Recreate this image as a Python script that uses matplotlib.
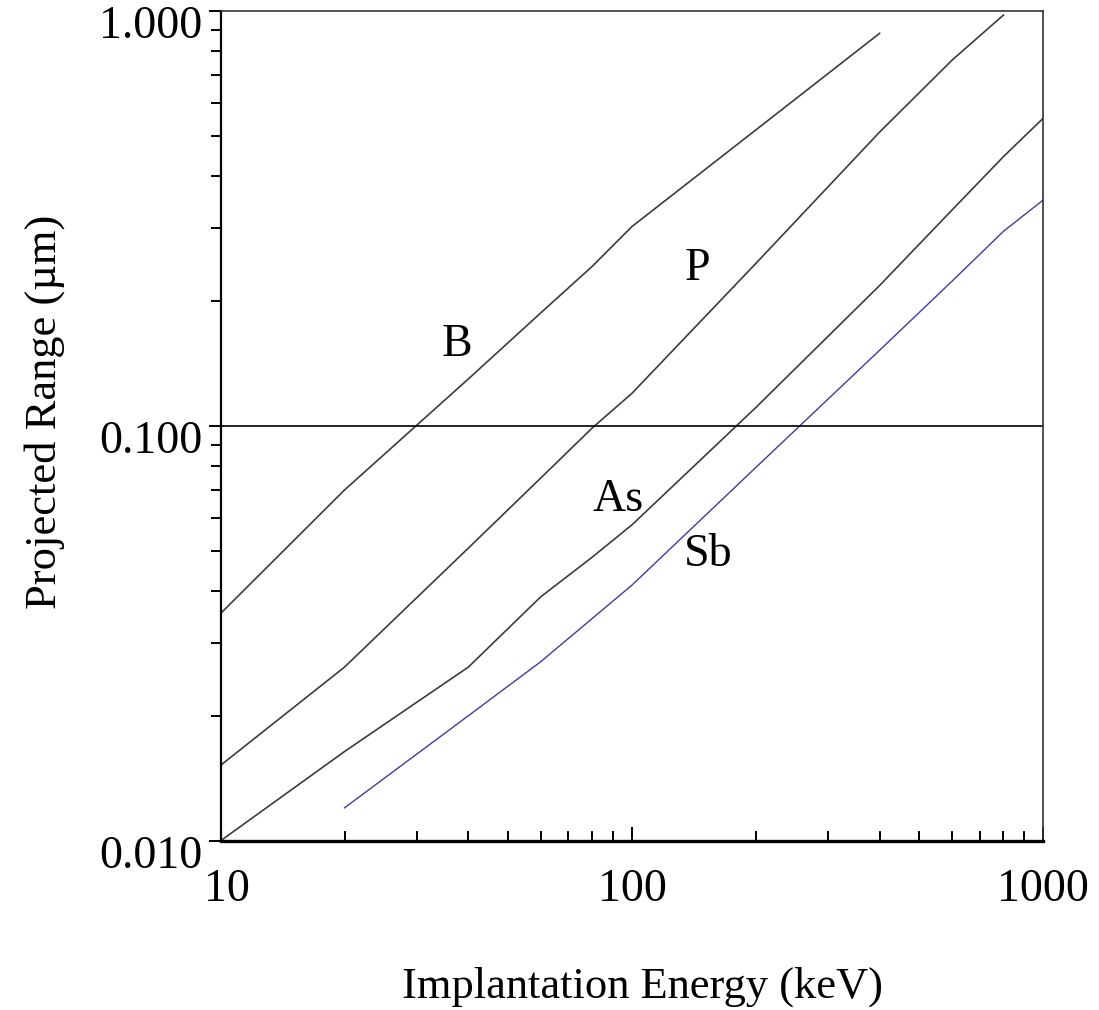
import matplotlib
matplotlib.use("Agg")
import matplotlib.pyplot as plt
import matplotlib.transforms as mtrans
from matplotlib.ticker import LogLocator, FixedLocator, NullFormatter

# Data (energy in keV, projected range in µm)
energy_B = [10, 20, 40, 60, 80, 100, 200, 400]
range_B = [0.0353, 0.0700, 0.1296, 0.187, 0.242, 0.302, 0.516, 0.882]

energy_P = [10, 20, 40, 60, 80, 100, 200, 400, 600, 800]
range_P = [0.0152, 0.0262, 0.0507, 0.0748, 0.0987, 0.1197, 0.246, 0.510, 0.760, 0.976]

energy_As = [10, 20, 40, 60, 80, 100, 200, 400, 600, 800, 1000]
range_As = [0.0100, 0.0164, 0.0262, 0.0387, 0.0482, 0.0577, 0.1106, 0.2177, 0.331, 0.445, 0.551]

energy_Sb = [20, 40, 60, 80, 100, 200, 400, 600, 800, 1000]
range_Sb = [0.0120, 0.0200, 0.0270, 0.0343, 0.0413, 0.0793, 0.152, 0.223, 0.294, 0.350]

x_ticks = [10, 100, 1000]
x_tick_labels = ["10", "100", "1000"]
y_ticks = [0.01, 0.1, 1.0]
y_tick_labels = ["0.010", "0.100", "1.000"]

labels = ["B", "P", "As", "Sb"]
label_pos = [(37.5, 0.1565), (144, 0.2386), (92.5, 0.0662), (153, 0.0488)]

serif = "Liberation Serif"
W, H = 1099, 1010
fig = plt.figure(figsize=(W / 100, H / 100), dpi=100)
ax = fig.add_axes([220.7 / W, 1 - 840.7 / H, (1043.3 - 220.7) / W, (840.7 - 10.7) / H])

line_col = "#3c3c3c"
ax.plot(energy_B, range_B, color=line_col, lw=1.2)
ax.plot(energy_P, range_P, color=line_col, lw=1.2)
ax.plot(energy_As, range_As, color=line_col, lw=1.2)
ax.plot(energy_Sb, range_Sb, color="#3d3d9e", lw=1.0)

ax.axhline(0.1, color="black", lw=1.2)

ax.set_xscale("log")
ax.set_yscale("log")
ax.set_xlim(10, 1000)
ax.set_ylim(0.01, 1.0)

ax.xaxis.set_major_locator(FixedLocator(x_ticks))
ax.xaxis.set_minor_locator(LogLocator(base=10, subs=range(2, 10), numticks=20))
ax.xaxis.set_minor_formatter(NullFormatter())
ax.yaxis.set_major_locator(FixedLocator(y_ticks))
ax.yaxis.set_minor_locator(LogLocator(base=10, subs=range(2, 10), numticks=20))
ax.yaxis.set_minor_formatter(NullFormatter())
ax.set_xticklabels(x_tick_labels)
ax.set_yticklabels(y_tick_labels)

ax.tick_params(axis="x", which="major", direction="in", length=10, width=1.4, pad=20, labelsize=33)
ax.tick_params(axis="x", which="minor", direction="in", length=7, width=1.4)
ax.tick_params(axis="y", which="major", direction="out", length=9, width=1.4, pad=4, labelsize=33)
ax.tick_params(axis="y", which="minor", direction="out", length=7, width=1.4)
for lab in ax.get_xticklabels() + ax.get_yticklabels():
    lab.set_fontfamily(serif)
offset = mtrans.ScaledTranslation(0, -0.11, fig.dpi_scale_trans)
for lab in ax.get_yticklabels():
    lab.set_transform(lab.get_transform() + offset)
offx = mtrans.ScaledTranslation(0.06, 0, fig.dpi_scale_trans)
xl = ax.get_xticklabels()
xl[0].set_transform(xl[0].get_transform() + offx)

ax.spines["bottom"].set_linewidth(2.4)
ax.spines["left"].set_linewidth(1.6)
ax.spines["top"].set_linewidth(1.2)
ax.spines["right"].set_linewidth(1.2)
ax.spines["top"].set_color("#333333")
ax.spines["right"].set_color("#333333")

for text, (xx, yy) in zip(labels, label_pos):
    ax.text(xx, yy, text, fontsize=33, fontfamily=serif, ha="center", va="center")

ax.set_xlabel("Implantation Energy (keV)", fontsize=32, fontfamily=serif, labelpad=40)
ax.set_ylabel("Projected Range (\u00b5m)", fontsize=32, fontfamily=serif, labelpad=25)
ax.xaxis.label.set_x(0.5122)
ax.yaxis.label.set_y(0.5165)

fig.savefig("out.png", dpi=100)
